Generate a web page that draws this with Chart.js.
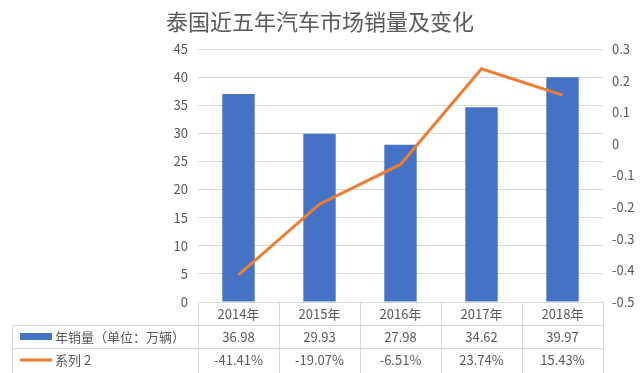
<!DOCTYPE html>
<html lang="zh">
<head>
    <meta charset="UTF-8">
    <title>泰国近五年汽车市场销量及变化</title>
    <script src="https://cdn.jsdelivr.net/npm/chart.js"></script>
    <style>
        html, body { margin: 0; padding: 0; background: #fff; }
        #wrap { width: 640px; height: 373px; }
    </style>
</head>
<body>
    <div id="wrap"><canvas id="myChart"></canvas></div>
    <script>
        const years = ['2014年', '2015年', '2016年', '2017年', '2018年'];
        const sales = [36.98, 29.93, 27.98, 34.62, 39.97];
        const change = [-0.4141, -0.1907, -0.0651, 0.2374, 0.1543];
        const changeLabels = ['-41.41%', '-19.07%', '-6.51%', '23.74%', '15.43%'];
        const salesName = '年销量（单位：万辆）';
        const changeName = '系列 2';
        const titleText = '泰国近五年汽车市场销量及变化';

        const FONT = '"Noto Sans CJK SC", "Noto Sans", sans-serif';
        const TEXT = '#595959';
        const GRID = '#d9d9d9';

        // title + data table under the plot
        const tablePlugin = {
            id: 'tablePlugin',
            afterDraw(chart) {
                const ctx = chart.ctx;
                const area = chart.chartArea;
                const x = chart.scales.x;
                const n = years.length;
                const step = (area.right - area.left) / n;
                const rows = [area.bottom, area.bottom + 23, area.bottom + 46, area.bottom + 71];

                ctx.save();
                ctx.fillStyle = TEXT;
                ctx.font = '22px ' + FONT;
                ctx.textAlign = 'center';
                ctx.textBaseline = 'middle';
                ctx.fillText(titleText, 320, 22);

                ctx.strokeStyle = GRID;
                ctx.lineWidth = 1;
                ctx.beginPath();
                // horizontal lines
                ctx.moveTo(area.left, rows[0] + 0.5);
                ctx.lineTo(area.right, rows[0] + 0.5);
                ctx.moveTo(12, rows[1] + 0.5);
                ctx.lineTo(area.right, rows[1] + 0.5);
                ctx.moveTo(12, rows[2] + 0.5);
                ctx.lineTo(area.right, rows[2] + 0.5);
                // vertical lines
                for (let i = 0; i <= n; i++) {
                    const vx = Math.round(area.left + i * step) + 0.5;
                    ctx.moveTo(vx, rows[0]);
                    ctx.lineTo(vx, rows[3]);
                }
                ctx.moveTo(12.5, rows[1]);
                ctx.lineTo(12.5, rows[3]);
                ctx.stroke();

                ctx.font = '13px ' + FONT;
                for (let i = 0; i < n; i++) {
                    const cx = x.getPixelForValue(i);
                    ctx.fillText(years[i], cx, rows[0] + 12);
                    ctx.fillText(sales[i].toFixed(2), cx, rows[1] + 12);
                    ctx.fillText(changeLabels[i], cx, rows[2] + 12);
                }

                // legend keys
                ctx.fillStyle = '#4472C4';
                ctx.fillRect(20, rows[1] + 8, 32, 7);
                ctx.strokeStyle = '#ED7D31';
                ctx.lineWidth = 3;
                ctx.beginPath();
                ctx.moveTo(20, rows[2] + 12);
                ctx.lineTo(52, rows[2] + 12);
                ctx.stroke();

                ctx.fillStyle = TEXT;
                ctx.textAlign = 'left';
                ctx.font = '13px ' + FONT;
                ctx.fillText(salesName, 55, rows[1] + 12);
                ctx.fillText(changeName, 55, rows[2] + 12);
                ctx.restore();
            }
        };

        new Chart(document.getElementById('myChart'), {
            data: {
                labels: years,
                datasets: [
                    {
                        type: 'line',
                        label: changeName,
                        data: change,
                        yAxisID: 'y1',
                        borderColor: '#ED7D31',
                        borderWidth: 3,
                        pointRadius: 0,
                        tension: 0,
                        order: 0
                    },
                    {
                        type: 'bar',
                        label: salesName,
                        data: sales,
                        yAxisID: 'y',
                        backgroundColor: '#4472C4',
                        categoryPercentage: 0.8,
                        barPercentage: 0.5,
                        order: 1
                    }
                ]
            },
            options: {
                responsive: true,
                maintainAspectRatio: false,
                animation: false,
                layout: { padding: { top: 49, bottom: 71, left: 0, right: 0 } },
                plugins: {
                    legend: { display: false },
                    title: { display: false },
                    tooltip: { enabled: false }
                },
                scales: {
                    x: { display: false },
                    y: {
                        position: 'left',
                        min: 0,
                        max: 45,
                        ticks: { stepSize: 5, color: TEXT, font: { size: 13, family: FONT }, padding: 10 },
                        grid: { color: GRID, drawTicks: false },
                        border: { display: false },
                        afterFit: s => { s.width = 198; }
                    },
                    y1: {
                        position: 'right',
                        min: -0.5,
                        max: 0.3,
                        ticks: {
                            stepSize: 0.1,
                            color: TEXT,
                            font: { size: 13, family: FONT },
                            padding: 9,
                            callback: v => String(Math.round(v * 10) / 10)
                        },
                        grid: { display: false, drawTicks: false },
                        border: { display: false },
                        afterFit: s => { s.width = 37; }
                    }
                }
            },
            plugins: [tablePlugin]
        });
    </script>
</body>
</html>
